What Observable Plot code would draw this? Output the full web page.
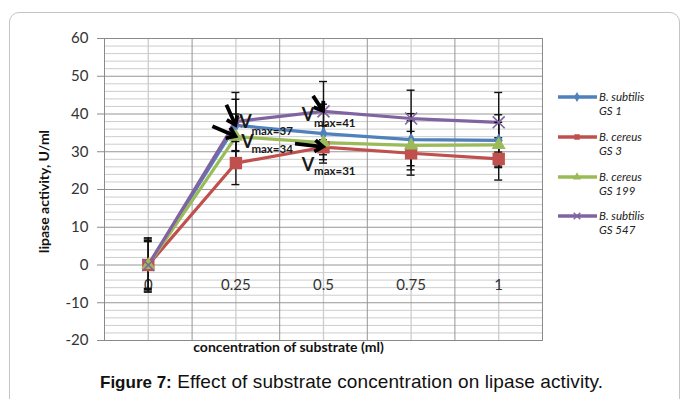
<!DOCTYPE html>
<html>
<head>
<meta charset="utf-8">
<script src="https://cdn.jsdelivr.net/npm/d3@7"></script>
<script src="https://cdn.jsdelivr.net/npm/@observablehq/plot@0.6"></script>
<style>
  html, body { margin: 0; padding: 0; background: #fff; }
  #wrap { position: relative; width: 683px; height: 399px; overflow: hidden; font-family: Lato, "Open Sans", sans-serif; }
  #card { position: absolute; left: 9px; top: 12px; width: 671px; height: 430px; border: 1.5px solid #c4c4c4; border-radius: 10px; box-sizing: border-box; }
  #chart { position: absolute; left: 0; top: 0; }
  #legend { position: absolute; left: 556px; top: 0; font-family: Lato, sans-serif; font-style: italic; font-size: 11.5px; color: #222; }
  .row { position: absolute; left: 0; display: flex; align-items: flex-start; white-space: nowrap; }
  .row svg { flex: none; }
  .row .txt { line-height: 13.5px; margin-left: 1px; margin-top: -1px; }
  #caption { position: absolute; left: 100px; top: 371px; font-family: "Liberation Sans", Arial, sans-serif; font-size: 19px; color: #111; white-space: nowrap; letter-spacing: 0.1px; }
  #caption b { font-size: 17px; letter-spacing: 0; }
</style>
</head>
<body>
<div id="wrap">
  <div id="card"></div>
  <div id="chart"></div>
  <div id="legend"></div>
  <div id="caption"><b>Figure 7:</b> Effect of substrate concentration on lipase activity.</div>
</div>
<script>
// ---- data ----
const categories = [0, 0.25, 0.5, 0.75, 1];
const categoryLabels = ["0", "0.25", "0.5", "0.75", "1"];
const seriesNames = ["B. subtilis|GS 1", "B. cereus|GS 3", "B. cereus|GS 199", "B. subtilis|GS 547"];
const gs1 = [0, 37, 34.8, 33.2, 33];
const gs3 = [0, 27, 31.2, 29.6, 28.1];
const gs199 = [0, 34, 32.4, 31.7, 31.8];
const gs547 = [0, 38, 40.7, 38.8, 37.8];
const gs1Err = [6.5, 6.9, 7.8, 6.9, 6.8];
const gs3Err = [7.2, 5.7, 2, 5.8, 5.6];
const gs199Err = [6.2, 6, 4.5, 6.5, 6];
const gs547Err = [6.9, 7.7, 7.9, 7.5, 7.9];
const yTicks = [-20, -10, 0, 10, 20, 30, 40, 50, 60];
const yLabel = "lipase activity, U/ml";
const xLabel = "concentration of substrate (ml)";
// Vmax annotations: which series / category they point to, and their label
const vmaxLabels = ["max=37", "max=34", "max=41", "max=31"];
const vmaxSeries = [0, 2, 3, 1];
const vmaxCategory = [1, 1, 2, 2];

// ---- styles ----
const colors = ["#4F81BD", "#C0504D", "#9BBB59", "#8064A2"];
const symbols = ["diamond", "square", "triangle", "times"];
const radii = [4.2, 7, 5.2, 5.5];
const values = [gs1, gs3, gs199, gs547];
const errs = [gs1Err, gs3Err, gs199Err, gs547Err];

const rows = [];
values.forEach((vals, s) => vals.forEach((v, i) => rows.push({s, x: categories[i], y: v, e: errs[s][i]})));

const half = (categories[1] - categories[0]) / 2;
const bounds = [categories[0] - half, ...categories.map(c => c + half)];
const minorY = d3.range(-20, 61, 2).filter(v => v % 10 !== 0);

// annotation geometry (pixel offsets relative to the target point)
const annotOffsets = [
  {ax: -9, ay: -20, vx: 10, vy: -1, sx: 16, sy: 7},
  {ax: -23, ay: -10, vx: 12, vy: 7, sx: 16, sy: 14},
  {ax: -10, ay: -15, vx: -15, vy: 6, sx: -9, sy: 13},
  {ax: -28, ay: -3, vx: -15, vy: 20, sx: -9, sy: 25}
];
const annots = vmaxLabels.map((lab, k) => ({
  x: categories[vmaxCategory[k]], y: values[vmaxSeries[k]][vmaxCategory[k]], lab, o: annotOffsets[k]
}));

const chart = Plot.plot({
  width: 683,
  height: 365,
  marginTop: 38,
  marginLeft: 104,
  marginRight: 141,
  marginBottom: 25,
  style: {fontFamily: "Lato, 'Open Sans', sans-serif", background: "transparent", overflow: "visible"},
  x: {domain: [bounds[0], bounds[bounds.length - 1]], axis: null},
  y: {domain: [-20, 60], axis: null},
  marks: [
    Plot.ruleY(minorY, {stroke: "#cdcdcd", strokeWidth: 1}),
    Plot.ruleX(categories, {stroke: "#cccccc", strokeWidth: 1.3}),
    Plot.ruleY(yTicks, {stroke: "#969696", strokeWidth: 1}),
    Plot.ruleX(bounds, {stroke: "#969696", strokeWidth: 1}),
    Plot.frame({stroke: "#8a8a8a"}),
    Plot.axisY(yTicks, {tickSize: 7, tickPadding: 9, fontSize: 15, label: null, stroke: "#8a8a8a", color: "#333", tickFormat: d => String(d)}),
    Plot.text(categories, {x: d => d, y: 0, text: (d, i) => categoryLabels[i], dy: 20, fontSize: 15, fill: "#333"}),
    Plot.text([yLabel], {frameAnchor: "left", textAnchor: "middle", lineAnchor: "middle", rotate: -90, dx: -60, dy: 2, fontSize: 14, fontWeight: "bold", fill: "#111"}),
    Plot.text([xLabel], {frameAnchor: "bottom", textAnchor: "middle", dy: 11, dx: -35, fontSize: 14, fontWeight: "bold", fill: "#111"}),
    // lines
    ...values.map((vals, s) => Plot.line(rows.filter(r => r.s === s), {x: "x", y: "y", stroke: colors[s], strokeWidth: 3.2})),
    // error bars
    Plot.ruleX(rows, {x: "x", y1: d => d.y - d.e, y2: d => d.y + d.e, stroke: "#111", strokeWidth: 1.4}),
    Plot.ruleY(rows, {x1: "x", x2: "x", y: d => d.y + d.e, stroke: "#111", strokeWidth: 1.4, insetLeft: -4, insetRight: -4}),
    Plot.ruleY(rows, {x1: "x", x2: "x", y: d => d.y - d.e, stroke: "#111", strokeWidth: 1.4, insetLeft: -4, insetRight: -4}),
    // markers
    ...values.map((vals, s) => Plot.dot(rows.filter(r => r.s === s), {
      x: "x", y: "y", symbol: symbols[s], r: radii[s],
      fill: symbols[s] === "times" ? "none" : colors[s],
      stroke: symbols[s] === "times" ? colors[s] : "none",
      strokeWidth: 1.6
    })),
    // Vmax annotations (arrow + V with subscript), anchored on the data points
    Plot.arrow(annots, {
      x1: "x", y1: "y", x2: "x", y2: "y",
      render(index, scales) {
        const g = d3.create("svg:g");
        for (const i of index) {
          const a = annots[i];
          const tx = scales.x(a.x), ty = scales.y(a.y);
          const x1 = tx + a.o.ax, y1 = ty + a.o.ay;
          const ang = Math.atan2(ty - y1, tx - x1);
          const h = 10, wing = 0.62;
          g.append("line").attr("x1", x1).attr("y1", y1).attr("x2", tx - Math.cos(ang) * 1.5).attr("y2", ty - Math.sin(ang) * 1.5)
            .attr("stroke", "#000").attr("stroke-width", 3.8);
          g.append("path").attr("d",
            `M${tx - h * Math.cos(ang - wing)},${ty - h * Math.sin(ang - wing)}L${tx},${ty}L${tx - h * Math.cos(ang + wing)},${ty - h * Math.sin(ang + wing)}`)
            .attr("fill", "none").attr("stroke", "#000").attr("stroke-width", 3.8).attr("stroke-linejoin", "miter");
          g.append("text").attr("x", tx + a.o.vx).attr("y", ty + a.o.vy).attr("font-size", 18).attr("font-weight", "bold")
            .attr("fill", "#1a1a1a").attr("text-anchor", "middle").attr("dominant-baseline", "middle").text("V");
          g.append("text").attr("x", tx + a.o.sx).attr("y", ty + a.o.sy).attr("font-size", 11.5).attr("font-weight", "bold")
            .attr("fill", "#1a1a1a").attr("text-anchor", "start").attr("dominant-baseline", "middle").text(a.lab);
        }
        return g.node();
      }
    })
  ]
});
document.getElementById("chart").appendChild(chart);

// legend
const legend = document.getElementById("legend");
const rowTops = [91, 131, 171, 210];
seriesNames.forEach((name, s) => {
  const row = document.createElement("div");
  row.className = "row";
  row.style.top = rowTops[s] + "px";
  const svg = d3.create("svg").attr("width", 42).attr("height", 12);
  svg.append("line").attr("x1", 2).attr("x2", 41).attr("y1", 6).attr("y2", 6).attr("stroke", colors[s]).attr("stroke-width", 3.5);
  const sym = {diamond: d3.symbolDiamond, square: d3.symbolSquare, triangle: d3.symbolTriangle, times: d3.symbolTimes}[symbols[s]];
  svg.append("path").attr("transform", "translate(21,6)").attr("d", d3.symbol(sym, 30)())
    .attr("fill", symbols[s] === "times" ? "none" : colors[s]).attr("stroke", symbols[s] === "times" ? colors[s] : "none").attr("stroke-width", 1.4);
  row.appendChild(svg.node());
  const t = document.createElement("div");
  t.className = "txt";
  const [a, b] = name.split("|");
  t.innerHTML = a + "<br>" + b;
  row.appendChild(t);
  legend.appendChild(row);
});
</script>
</body>
</html>
